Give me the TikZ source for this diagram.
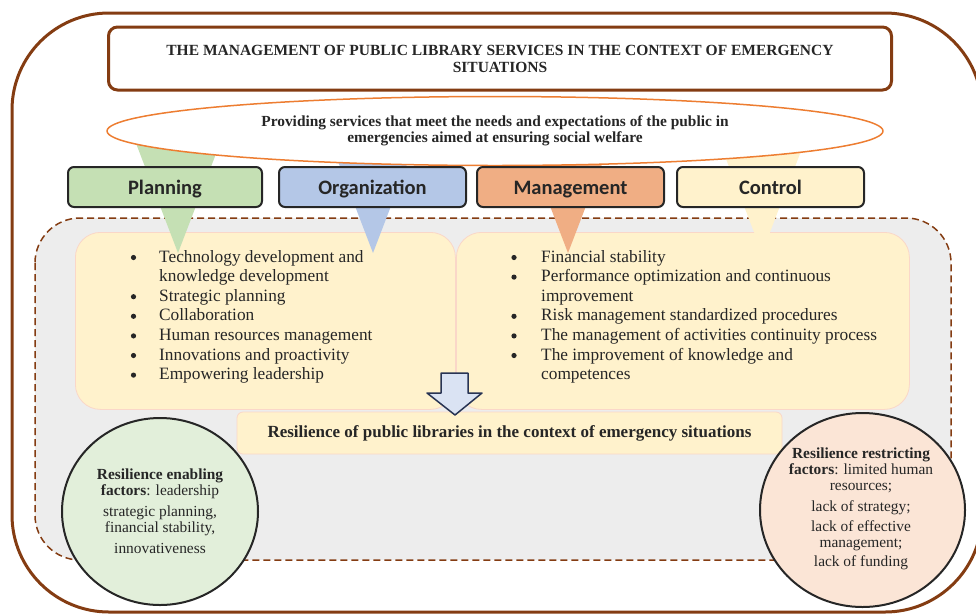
\documentclass[tikz,border=0pt]{standalone}
\usepackage{fontspec}
\setmainfont{Liberation Serif}
\newfontfamily\labfont{Carlito}
\usetikzlibrary{shapes.geometric}
\definecolor{brownc}{RGB}{132,60,18}
\definecolor{orangec}{RGB}{237,125,49}
\definecolor{greenc}{RGB}{197,224,180}
\definecolor{bluec}{RGB}{180,199,231}
\definecolor{mgmtc}{RGB}{240,174,132}
\definecolor{yellowc}{RGB}{255,242,204}
\definecolor{grayc}{RGB}{237,237,237}
\definecolor{pinkline}{RGB}{250,215,200}
\definecolor{arrowfill}{RGB}{218,227,243}
\definecolor{arrowline}{RGB}{40,52,84}
\definecolor{circgreen}{RGB}{226,239,218}
\definecolor{circpink}{RGB}{251,229,214}
\definecolor{darkline}{RGB}{38,38,38}
\begin{document}
\begin{tikzpicture}[x=1pt,y=-1pt,line join=round,
  labbox/.style={draw=darkline,line width=2,rounded corners=6,minimum width=#1,minimum height=40,inner sep=0,
    text height=17,text depth=3,
    font=\labfont\bfseries\fontsize{20.5}{24}\selectfont,text=darkline},
  listbox/.style={draw=pinkline,line width=0.8,fill=yellowc,rounded corners=25,inner sep=0,anchor=north west},
  listtext/.style={inner sep=0,anchor=base west,font=\fontsize{17.3}{19.6}\selectfont,text=black!85},
  bulletdot/.style={fill=black!85},
  circtext/.style={align=center,font=\fontsize{15.4}{16}\selectfont,text=black!85},
  circshape/.style={ellipse,draw=darkline,line width=2,inner sep=0}]
\useasboundingbox (0,0) rectangle (976,614);
% outer frame
\draw[brownc,line width=3,rounded corners=97] (12,13) rectangle (982,612);
% dashed region
\draw[brownc,line width=1.5,dash pattern=on 7 off 4,fill=grayc,rounded corners=45] (35,218) rectangle (951,560);
% list boxes
\node (lbox) [listbox,minimum width=380,minimum height=177] at (75,232) {};
\node (rbox) [listbox,minimum width=453,minimum height=177] at (456,232) {};
% resilience box
\node (res) [draw=pinkline,line width=0.8,fill=yellowc,rounded corners=6,minimum width=545,minimum height=42,inner sep=0,
  font=\bfseries\fontsize{17}{20}\selectfont,text=black!85] at (509.5,433)
  {Resilience of public libraries in the context of emergency situations};
% arrow
\draw[arrowline,line width=1.5,fill=arrowfill] (441,373) -- (468,373) -- (468,393) -- (482,393) -- (455,415) -- (427,393) -- (441,393) -- cycle;
% triangles
\fill[greenc] (129,125) -- (227,125) -- (178,253) -- cycle;
\fill[bluec] (324,125) -- (422,125) -- (373,253) -- cycle;
\fill[mgmtc] (519,125) -- (617,125) -- (568,253) -- cycle;
\fill[yellowc] (713,125) -- (811,125) -- (762,253) -- cycle;
% ellipse
\node (ell) [ellipse,draw=orangec,line width=1.5,fill=white,minimum width=776,minimum height=69,inner sep=0,align=center,
  font=\bfseries\fontsize{15.4}{16.5}\selectfont,text=black!85] at (495,131)
  {Providing services that meet the needs and expectations of the public in\\emergencies aimed at ensuring social welfare};
% title
\node (title) [draw=brownc,line width=3,rounded corners=9,fill=white,minimum width=783,minimum height=63,inner sep=0,align=center,
  font=\bfseries\fontsize{15.5}{17}\selectfont,text=black!85] at (500,58.5)
  {THE MANAGEMENT OF PUBLIC LIBRARY SERVICES IN THE CONTEXT OF EMERGENCY\\SITUATIONS};
% label boxes
\node (plan) [labbox=194,fill=greenc] at (165,187) {Planning};
\node (org) [labbox=187,fill=bluec] at (372.5,187) {Organization};
\node (mgmt) [labbox=187,fill=mgmtc] at (570.5,187) {Management};
\node (ctrl) [labbox=187,fill=yellowc] at (770.5,187) {Control};
% lists
\node (llist) [listtext] at (159,262) {\begin{tabular}[t]{@{}l@{}}
Technology development and\\
knowledge development\\
Strategic planning\\
Collaboration\\
Human resources management\\
Innovations and proactivity\\
Empowering leadership
\end{tabular}};
\foreach \r in {0,2,3,4,5,6} \fill[bulletdot] (133.5,{257.5+19.6*\r}) circle (2.6);
\node (rlist) [listtext] at (541,262) {\begin{tabular}[t]{@{}l@{}}
Financial stability\\
Performance optimization and continuous\\
improvement\\
Risk management standardized procedures\\
The management of activities continuity process\\
The improvement of knowledge and\\
competences
\end{tabular}};
\foreach \r in {0,1,3,4,5} \fill[bulletdot] (514,{257.5+19.6*\r}) circle (2.6);
% circles
\node (gcirc) [circshape,fill=circgreen,minimum width=196,minimum height=187] at (160,511.5) {};
\node (gtext) [circtext] at (160,511) {\textbf{Resilience enabling}\\\textbf{factors}: leadership\\[5pt]strategic planning,\\financial stability,\\[5pt]innovativeness};
\node (pcirc) [circshape,fill=circpink,minimum width=205,minimum height=194] at (862.5,510) {};
\node (ptext) [circtext] at (861,509) {\textbf{Resilience restricting}\\\textbf{factors}: limited human\\resources;\\[5pt]lack of strategy;\\[4pt]lack of effective\\management;\\[3pt]lack of funding};
\end{tikzpicture}
\end{document}
